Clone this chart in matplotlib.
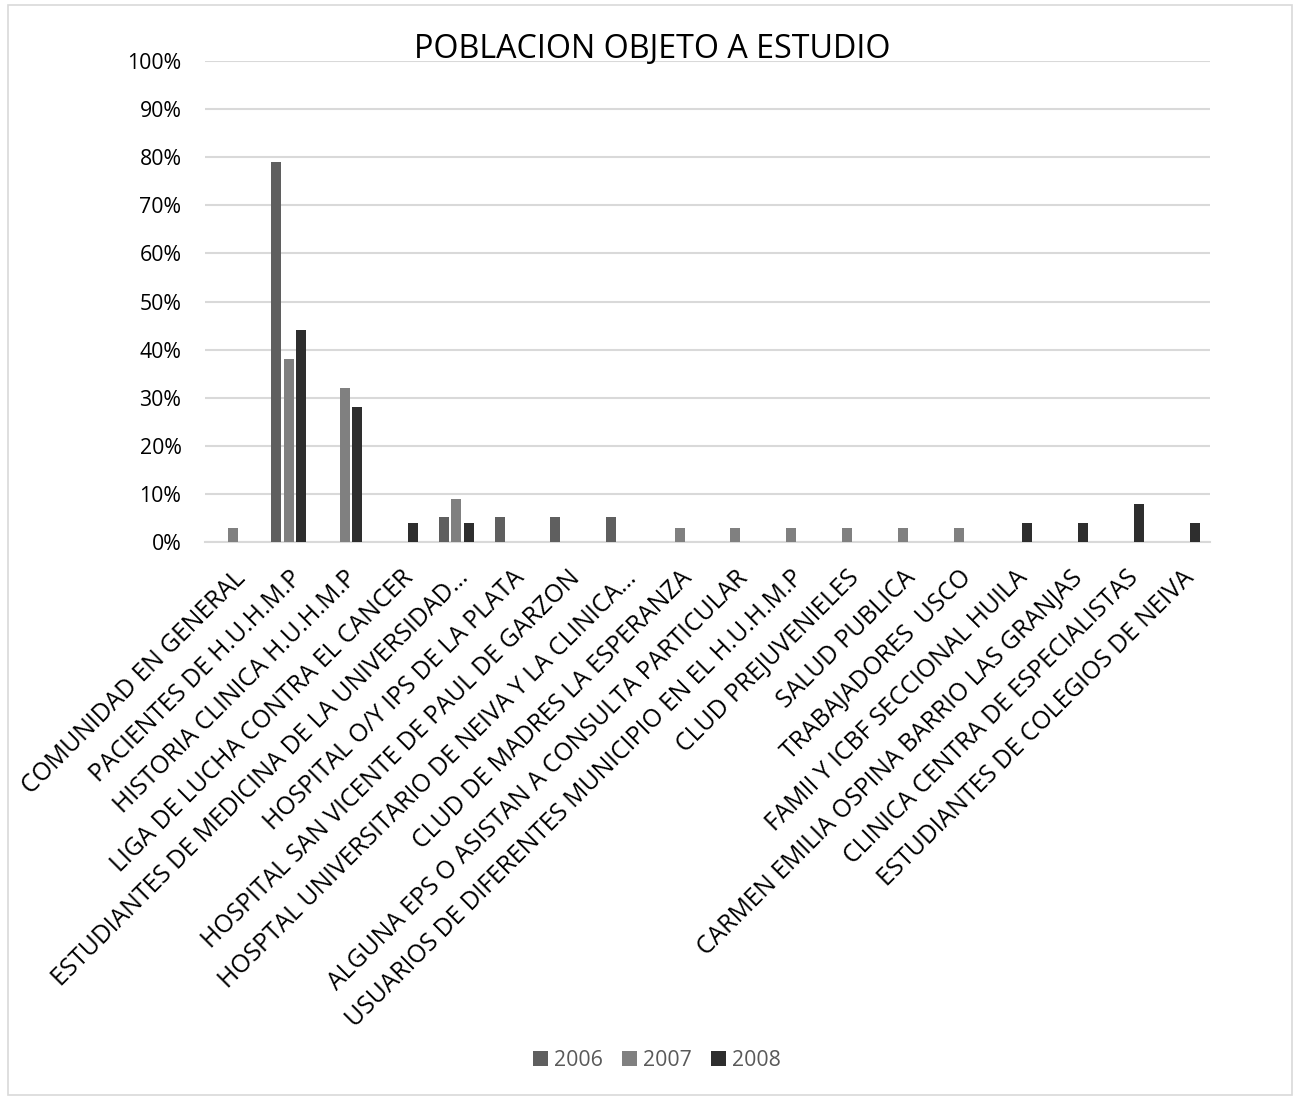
import matplotlib
matplotlib.use("Agg")
import matplotlib.pyplot as plt
import numpy as np
from matplotlib.patches import Rectangle

categories = [
    "COMUNIDAD EN GENERAL",
    "PACIENTES DE H.U.H.M.P",
    "HISTORIA CLINICA H.U.H.M.P",
    "LIGA DE LUCHA CONTRA EL CANCER",
    "ESTUDIANTES DE MEDICINA DE LA UNIVERSIDAD…",
    "HOSPITAL O/Y IPS DE LA PLATA",
    "HOSPITAL SAN VICENTE DE PAUL DE GARZON",
    "HOSPTAL UNIVERSITARIO DE NEIVA Y LA CLINICA…",
    "CLUD DE MADRES LA ESPERANZA",
    "ALGUNA EPS O ASISTAN A CONSULTA PARTICULAR",
    "USUARIOS DE DIFERENTES MUNICIPIO EN EL H.U.H.M.P",
    "CLUD PREJUVENIELES",
    "SALUD PUBLICA",
    "TRABAJADORES  USCO",
    "FAMII Y ICBF SECCIONAL HUILA",
    "CARMEN EMILIA OSPINA BARRIO LAS GRANJAS",
    "CLINICA CENTRA DE ESPECIALISTAS",
    "ESTUDIANTES DE COLEGIOS DE NEIVA",
]
series_names = ["2006", "2007", "2008"]
v2006 = [0, 79, 0, 0, 5.26, 5.26, 5.26, 5.26, 0, 0, 0, 0, 0, 0, 0, 0, 0, 0]
v2007 = [3, 38, 32, 0, 9, 0, 0, 0, 3, 3, 3, 3, 3, 3, 0, 0, 0, 0]
v2008 = [0, 44, 28, 4, 4, 0, 0, 0, 0, 0, 0, 0, 0, 0, 4, 4, 8, 4]
colors = ["#5f5f5f", "#808080", "#2e2e2e"]

plt.rcParams['font.family'] = ['Open Sans', 'DejaVu Sans']

W, H = 1301, 1099
fig = plt.figure(figsize=(W / 100, H / 100), dpi=100)
fig.patches.append(Rectangle((8 / W, 4 / H), (1292 - 8) / W, (1094 - 4) / H,
                             transform=fig.transFigure, fill=False,
                             edgecolor="#d9d9d9", linewidth=1.2))

ax = fig.add_axes([205 / W, 1 - 542 / H, (1210 - 205) / W, (542 - 61) / H])
x = np.arange(len(categories))
offs = [-0.224, 0, 0.224]
for vals, name, c, o in zip([v2006, v2007, v2008], series_names, colors, offs):
    ax.bar(x + o, vals, width=0.18, color=c, label=name, zorder=3)

ax.set_xlim(-0.5, len(categories) - 0.5)
ax.set_ylim(0, 100)
ax.set_yticks(np.arange(0, 101, 10))
ax.set_yticklabels([f"{t}%" for t in range(0, 101, 10)], fontsize=15.3, color="#000000")
ax.yaxis.grid(True, color="#d9d9d9", linewidth=1.5, zorder=0)
ax.tick_params(axis='y', length=0, pad=17)
ax.tick_params(axis='x', length=0, pad=17)
for s in ["top", "right", "left"]:
    ax.spines[s].set_visible(False)
ax.spines["bottom"].set_color("#d9d9d9")
ax.spines["bottom"].set_linewidth(1.5)

ax.set_xticks(x)
ax.set_xticklabels(categories, rotation=45, ha='right', va='top',
                   rotation_mode='anchor', fontsize=17.8, color="#000000")

fig.text(652 / W, 1 - 50 / H, "POBLACION OBJETO A ESTUDIO", ha='center', va='center',
         fontsize=23.2, color="#000000")

fig.legend(loc='center', bbox_to_anchor=(657 / W, 1 - 1060 / H), ncol=3, frameon=False,
           fontsize=15.3, handlelength=0.7, handleheight=0.7, columnspacing=0.9,
           handletextpad=0.3, labelcolor="#595959")

fig.savefig("out.png", dpi=100)
